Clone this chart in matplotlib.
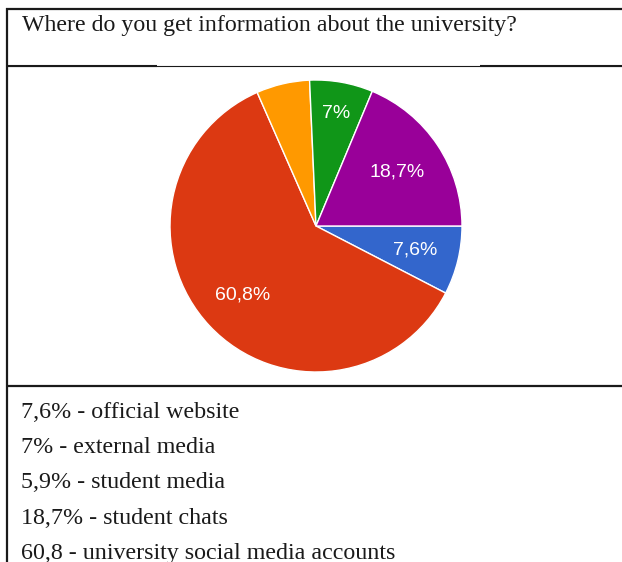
import matplotlib.pyplot as plt
import numpy as np

# survey answers, in the order the slices run clockwise from 3 o'clock
sources = ['official website', 'university social media accounts', 'student media',
           'external media', 'student chats']
shares = [7.6, 60.8, 5.9, 7.0, 18.7]
slice_labels = ['7,6%', '60,8%', '', '7%', '18,7%']
colors = ['#3366CC', '#DC3912', '#FF9900', '#109618', '#990099']

title = 'Where do you get information about the university?'
legend_lines = [
    '7,6% - official website',
    '7% - external media',
    '5,9% - student media',
    '18,7% - student chats',
    '60,8 - university social media accounts',
]

W, H = 622, 562
fig = plt.figure(figsize=(W / 100, H / 100), dpi=100)
fig.patch.set_facecolor('white')

# background axes in pixel units for the table frame and text
bg = fig.add_axes([0, 0, 1, 1])
bg.set_xlim(0, W)
bg.set_ylim(H, 0)
bg.axis('off')

line_kw = dict(color='#1a1a1a', solid_capstyle='butt')
bg.plot([6.5, 6.5], [8, H], lw=1.6, **line_kw)
bg.plot([6, W], [9, 9], lw=1.6, **line_kw)
bg.plot([6, W], [65.5, 65.5], lw=0.8, **line_kw)
bg.plot([6, 157], [65.5, 65.5], lw=1.5, **line_kw)
bg.plot([480, W], [65.5, 65.5], lw=1.5, **line_kw)
bg.plot([6, W], [386, 386], lw=1.6, **line_kw)

serif = 'Liberation Serif'
bg.text(22, 30.7, title, fontsize=17.2, family=serif, color='#1a1a1a', va='baseline')

for i, line in enumerate(legend_lines):
    bg.text(21, 417.7 + i * 35.4, line, fontsize=17.3, family=serif,
            color='#1a1a1a', va='baseline')

# pie chart
cx, cy, r = 316, 226, 146
pax = fig.add_axes([(cx - r) / W, (H - cy - r) / H, 2 * r / W, 2 * r / H])
wedges, _ = pax.pie(shares, colors=colors, startangle=0, counterclock=False,
                    radius=1, wedgeprops=dict(edgecolor='white', linewidth=1.0))
pax.set_xlim(-1, 1)
pax.set_ylim(-1, 1)
pax.set_aspect('equal')
pax.axis('off')

label_dist = [0.70, 0.69, 0.0, 0.78, 0.67]
for w, lab, d in zip(wedges, slice_labels, label_dist):
    if not lab:
        continue
    ang = np.deg2rad((w.theta1 + w.theta2) / 2)
    pax.text(d * np.cos(ang), d * np.sin(ang), lab, color='white', fontsize=14,
             family='Liberation Sans', ha='center', va='center')

fig.savefig('out.png', dpi=100)
